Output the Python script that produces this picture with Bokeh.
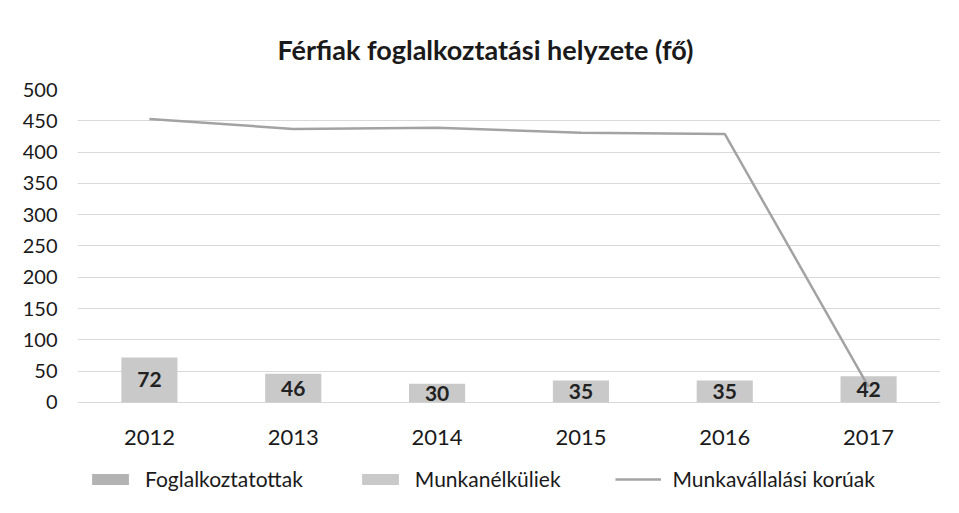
from bokeh.plotting import figure
from bokeh.models import ColumnDataSource, Range1d, Legend, LegendItem, Title, LabelSet, FixedTicker
from bokeh.core.properties import value
from bokeh.embed import file_html
from bokeh.resources import INLINE

years = ["2012", "2013", "2014", "2015", "2016", "2017"]
foglalkoztatottak = [0, 0, 0, 0, 0, 0]
munkanelkuliek = [72, 46, 30, 35, 35, 42]
munkavallalasi_koruak = [453, 437, 439, 431, 429, 25]
y_ticks = [0, 50, 100, 150, 200, 250, 300, 350, 400, 450, 500]

FONT = "Lato"

src = ColumnDataSource(dict(
    x=years,
    f=foglalkoztatottak,
    m=munkanelkuliek,
    m_top=[a + b for a, b in zip(foglalkoztatottak, munkanelkuliek)],
    m_mid=[a + b / 2 for a, b in zip(foglalkoztatottak, munkanelkuliek)],
    lbl=[str(v) for v in munkanelkuliek],
    k=munkavallalasi_koruak,
    zero=[0] * len(years),
))

# frame runs to the bottom edge so that the legend and category labels sit inside it
p = figure(x_range=years, y_range=Range1d(-151.8, 500), width=943, height=497,
           output_backend="svg", toolbar_location=None,
           min_border_left=77, min_border_right=3, min_border_top=89, min_border_bottom=0)

p.title = Title(text="Férfiak foglalkoztatási helyzete (fő)", align="left",
                text_font=FONT, text_font_size="27px", text_font_style="bold",
                text_color="#1a1a1a", offset=200, standoff=48)

r_f = p.vbar(x="x", top="f", bottom=0, width=0.39, source=src, fill_color="#b3b3b3", line_color=None)
r_m = p.vbar(x="x", top="m_top", bottom="f", width=0.39, source=src, fill_color="#c9c9c9", line_color=None)
r_k = p.line(x="x", y="k", source=src, line_color="#a3a3a3", line_width=2.5)

labels = LabelSet(x="x", y="m_mid", text="lbl", source=src, text_align="center",
                  text_baseline="middle", text_font=value(FONT), text_font_size="21px",
                  text_font_style="bold", text_color="#222222")
p.add_layout(labels)

cat_labels = LabelSet(x="x", y="zero", text="x", source=src, text_align="center",
                      text_baseline="middle", y_offset=-35, text_font=value(FONT),
                      text_font_size="22px", text_color="#1a1a1a")
p.add_layout(cat_labels)

p.xaxis.visible = False

p.yaxis.ticker = FixedTicker(ticks=y_ticks)
p.yaxis.axis_line_color = None
p.yaxis.major_tick_line_color = None
p.yaxis.minor_tick_line_color = None
p.yaxis.major_label_standoff = 14
p.yaxis.major_label_text_font = FONT
p.yaxis.major_label_text_font_size = "20px"
p.yaxis.major_label_text_color = "#1a1a1a"

p.xgrid.grid_line_color = None
p.ygrid.grid_line_color = "#d9d9d9"
p.ygrid.grid_line_width = 1
p.outline_line_color = None

legend = Legend(items=[
    LegendItem(label="Foglalkoztatottak", renderers=[r_f]),
    LegendItem(label="Munkanélküliek", renderers=[r_m]),
    LegendItem(label="Munkavállalási korúak", renderers=[r_k]),
], orientation="horizontal", location=(10, 6), margin=0, padding=4,
    label_text_font=FONT, label_text_font_size="21px", label_text_color="#1a1a1a",
    glyph_width=46, glyph_height=14, label_standoff=12, spacing=54,
    border_line_color=None, background_fill_alpha=0)
p.add_layout(legend)

open("out.html", "w").write(file_html(p, INLINE))
